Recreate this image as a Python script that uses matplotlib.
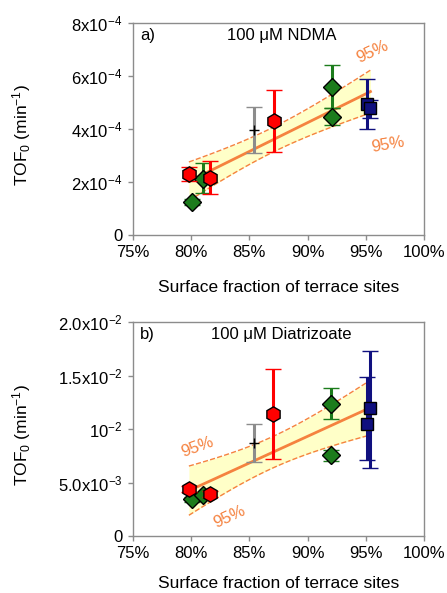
import numpy as np
import matplotlib
matplotlib.use("Agg")
import matplotlib.pyplot as plt

plt.rcParams['font.family'] = ['Liberation Sans', 'DejaVu Sans']
plt.rcParams['mathtext.fontset'] = 'custom'
plt.rcParams['mathtext.rm'] = 'Liberation Sans'
plt.rcParams['mathtext.it'] = 'Liberation Sans'
plt.rcParams['mathtext.default'] = 'regular'

# ---------------- data (x in % terrace sites) ----------------
# Panel a: 100 uM NDMA (TOF0 in units of 1e-4 min^-1)
a_red_x = [79.8, 81.6, 87.1]
a_red_y = [2.30, 2.15, 4.30]
a_red_lo = [2.02, 1.55, 3.13]
a_red_hi = [2.55, 2.78, 5.47]

a_green_x = [80.1, 81.0, 92.1, 92.1]
a_green_y = [1.25, 2.10, 5.58, 4.45]
a_green_lo = [1.15, 1.57, 4.79, 4.15]
a_green_hi = [1.35, 2.70, 6.41, 4.79]

a_gray_x = [85.4]
a_gray_y = [3.96]
a_gray_lo = [3.09]
a_gray_hi = [4.83]

a_blue_x = [95.1, 95.4]
a_blue_y = [4.95, 4.78]
a_blue_lo = [4.00, 4.41]
a_blue_hi = [5.87, 5.10]

# Panel b: 100 uM Diatrizoate (TOF0 in units of 1e-3 min^-1)
b_red_x = [79.8, 81.6, 87.0]
b_red_y = [4.39, 3.90, 11.4]
b_red_lo = [4.10, 3.60, 7.17]
b_red_hi = [4.65, 4.20, 15.6]

b_green_x = [80.1, 81.0, 92.0, 92.0]
b_green_y = [3.43, 3.85, 12.3, 7.54]
b_green_lo = [3.20, 3.65, 10.9, 7.05]
b_green_hi = [3.66, 4.05, 13.8, 8.05]

b_gray_x = [85.4]
b_gray_y = [8.67]
b_gray_lo = [6.92]
b_gray_hi = [10.44]

b_blue_x = [95.1, 95.4]
b_blue_y = [10.44, 12.0]
b_blue_lo = [7.10, 6.39]
b_blue_hi = [14.9, 17.3]

x_ticks = [75, 80, 85, 90, 95, 100]
x_ticklabels = ['75%', '80%', '85%', '90%', '95%', '100%']
a_yticks = [0, 2, 4, 6, 8]
a_yticklabels = ['0', '2x10$^{-4}$', '4x10$^{-4}$', '6x10$^{-4}$', '8x10$^{-4}$']
b_yticks = [0, 5, 10, 15, 20]
b_yticklabels = ['0', '5.0x10$^{-3}$', '10$^{-2}$', '1.5x10$^{-2}$', '2.0x10$^{-2}$']

T95 = 2.306  # t(0.975, 8)

RED = '#FF0000'
GREEN = '#1C7C1C'
BLUE = '#10107F'
GRAY = '#8C8C8C'
ORANGE = '#F5823F'
BAND = '#FFFFC8'
SPINE = '#8C8C8C'


def fit_band(xs, ys):
    xs = np.asarray(xs, float)
    ys = np.asarray(ys, float)
    p = np.polyfit(xs, ys, 1)
    n = len(xs)
    res = ys - np.polyval(p, xs)
    s = np.sqrt(np.sum(res ** 2) / (n - 2))
    xm = xs.mean()
    sxx = np.sum((xs - xm) ** 2)
    xx = np.linspace(xs.min(), xs.max(), 100)
    yy = np.polyval(p, xx)
    half = T95 * s * np.sqrt(1.0 / n + (xx - xm) ** 2 / sxx)
    return xx, yy, yy - half, yy + half


def series(ax, x, y, lo, hi, color, marker, ms, mfc, mec, z):
    y = np.asarray(y)
    err = [y - np.asarray(lo), np.asarray(hi) - y]
    ax.errorbar(x, y, yerr=err, fmt=marker, color=color, ms=ms, mfc=mfc,
                mec=mec, mew=1.0, elinewidth=2.2, capsize=6, capthick=2.2,
                zorder=z)


def panel(ax, groups, ymax, yticks, yticklabels, label, title, texts, xlab_y):
    allx = []
    ally = []
    for g in groups:
        allx += list(g[0])
        ally += list(g[1])
    xx, yy, lo, hi = fit_band(allx, ally)
    ax.fill_between(xx, lo, hi, color=BAND, lw=0, zorder=1)
    ax.plot(xx, lo, '--', color=ORANGE, lw=1.0, zorder=2)
    ax.plot(xx, hi, '--', color=ORANGE, lw=1.0, zorder=2)
    ax.plot(xx, yy, '-', color=ORANGE, lw=2.0, zorder=2)

    for g in groups:
        series(ax, *g)

    ax.set_xlim(75, 100)
    ax.set_ylim(0, ymax)
    ax.set_xticks(x_ticks)
    ax.set_xticklabels(x_ticklabels)
    ax.set_yticks(yticks)
    ax.set_yticklabels(yticklabels)
    for sp in ax.spines.values():
        sp.set_color(SPINE)
        sp.set_linewidth(1.0)
    ax.tick_params(axis='both', direction='out', length=3.5, width=1.0,
                   color=SPINE, labelsize=12, pad=4)
    ax.set_xlabel('Surface fraction of terrace sites', fontsize=12.5)
    ax.xaxis.set_label_coords(0.5, xlab_y)
    ax.set_ylabel('TOF$_0$ (min$^{-1}$)', fontsize=12.5)
    ax.yaxis.set_label_coords(-0.345, 0.47)
    ax.text(0.025, 0.94, label, transform=ax.transAxes, fontsize=12,
            ha='left', va='center')
    ax.text(0.51, 0.94, title, transform=ax.transAxes, fontsize=12,
            ha='center', va='center')
    for (tx, ty, rot) in texts:
        ax.text(tx, ty, '95%', color=ORANGE, fontsize=12, rotation=rot,
                ha='center', va='center', rotation_mode='anchor')


fig = plt.figure(figsize=(4.47, 5.93), dpi=100)
ax_a = fig.add_axes([133 / 447, 1 - 235 / 593, 291 / 447, 212 / 593])
ax_b = fig.add_axes([133 / 447, 1 - 536 / 593, 291 / 447, 214 / 593])

groups_a = [
    (a_gray_x, a_gray_y, a_gray_lo, a_gray_hi, GRAY, '+', 7, 'k', 'k', 3),
    (a_green_x, a_green_y, a_green_lo, a_green_hi, GREEN, 'D', 9, GREEN, 'k', 4),
    (a_red_x, a_red_y, a_red_lo, a_red_hi, RED, 'h', 11, RED, 'k', 5),
    (a_blue_x, a_blue_y, a_blue_lo, a_blue_hi, BLUE, 's', 8, BLUE, 'k', 6),
]
groups_b = [
    (b_gray_x, b_gray_y, b_gray_lo, b_gray_hi, GRAY, '+', 7, 'k', 'k', 3),
    (b_green_x, b_green_y, b_green_lo, b_green_hi, GREEN, 'D', 9, GREEN, 'k', 4),
    (b_red_x, b_red_y, b_red_lo, b_red_hi, RED, 'h', 11, RED, 'k', 5),
    (b_blue_x, b_blue_y, b_blue_lo, b_blue_hi, BLUE, 's', 8, BLUE, 'k', 6),
]

panel(ax_a, groups_a, 8, a_yticks, a_yticklabels, 'a)', '100 μM NDMA',
      [(95.6, 6.9, 25), (96.9, 3.4, 10)], -0.21)
panel(ax_b, groups_b, 20, b_yticks, b_yticklabels, 'b)', '100 μM Diatrizoate',
      [(80.5, 8.3, 20), (83.3, 1.8, 25)], -0.185)

fig.savefig('out.png', dpi=100)
